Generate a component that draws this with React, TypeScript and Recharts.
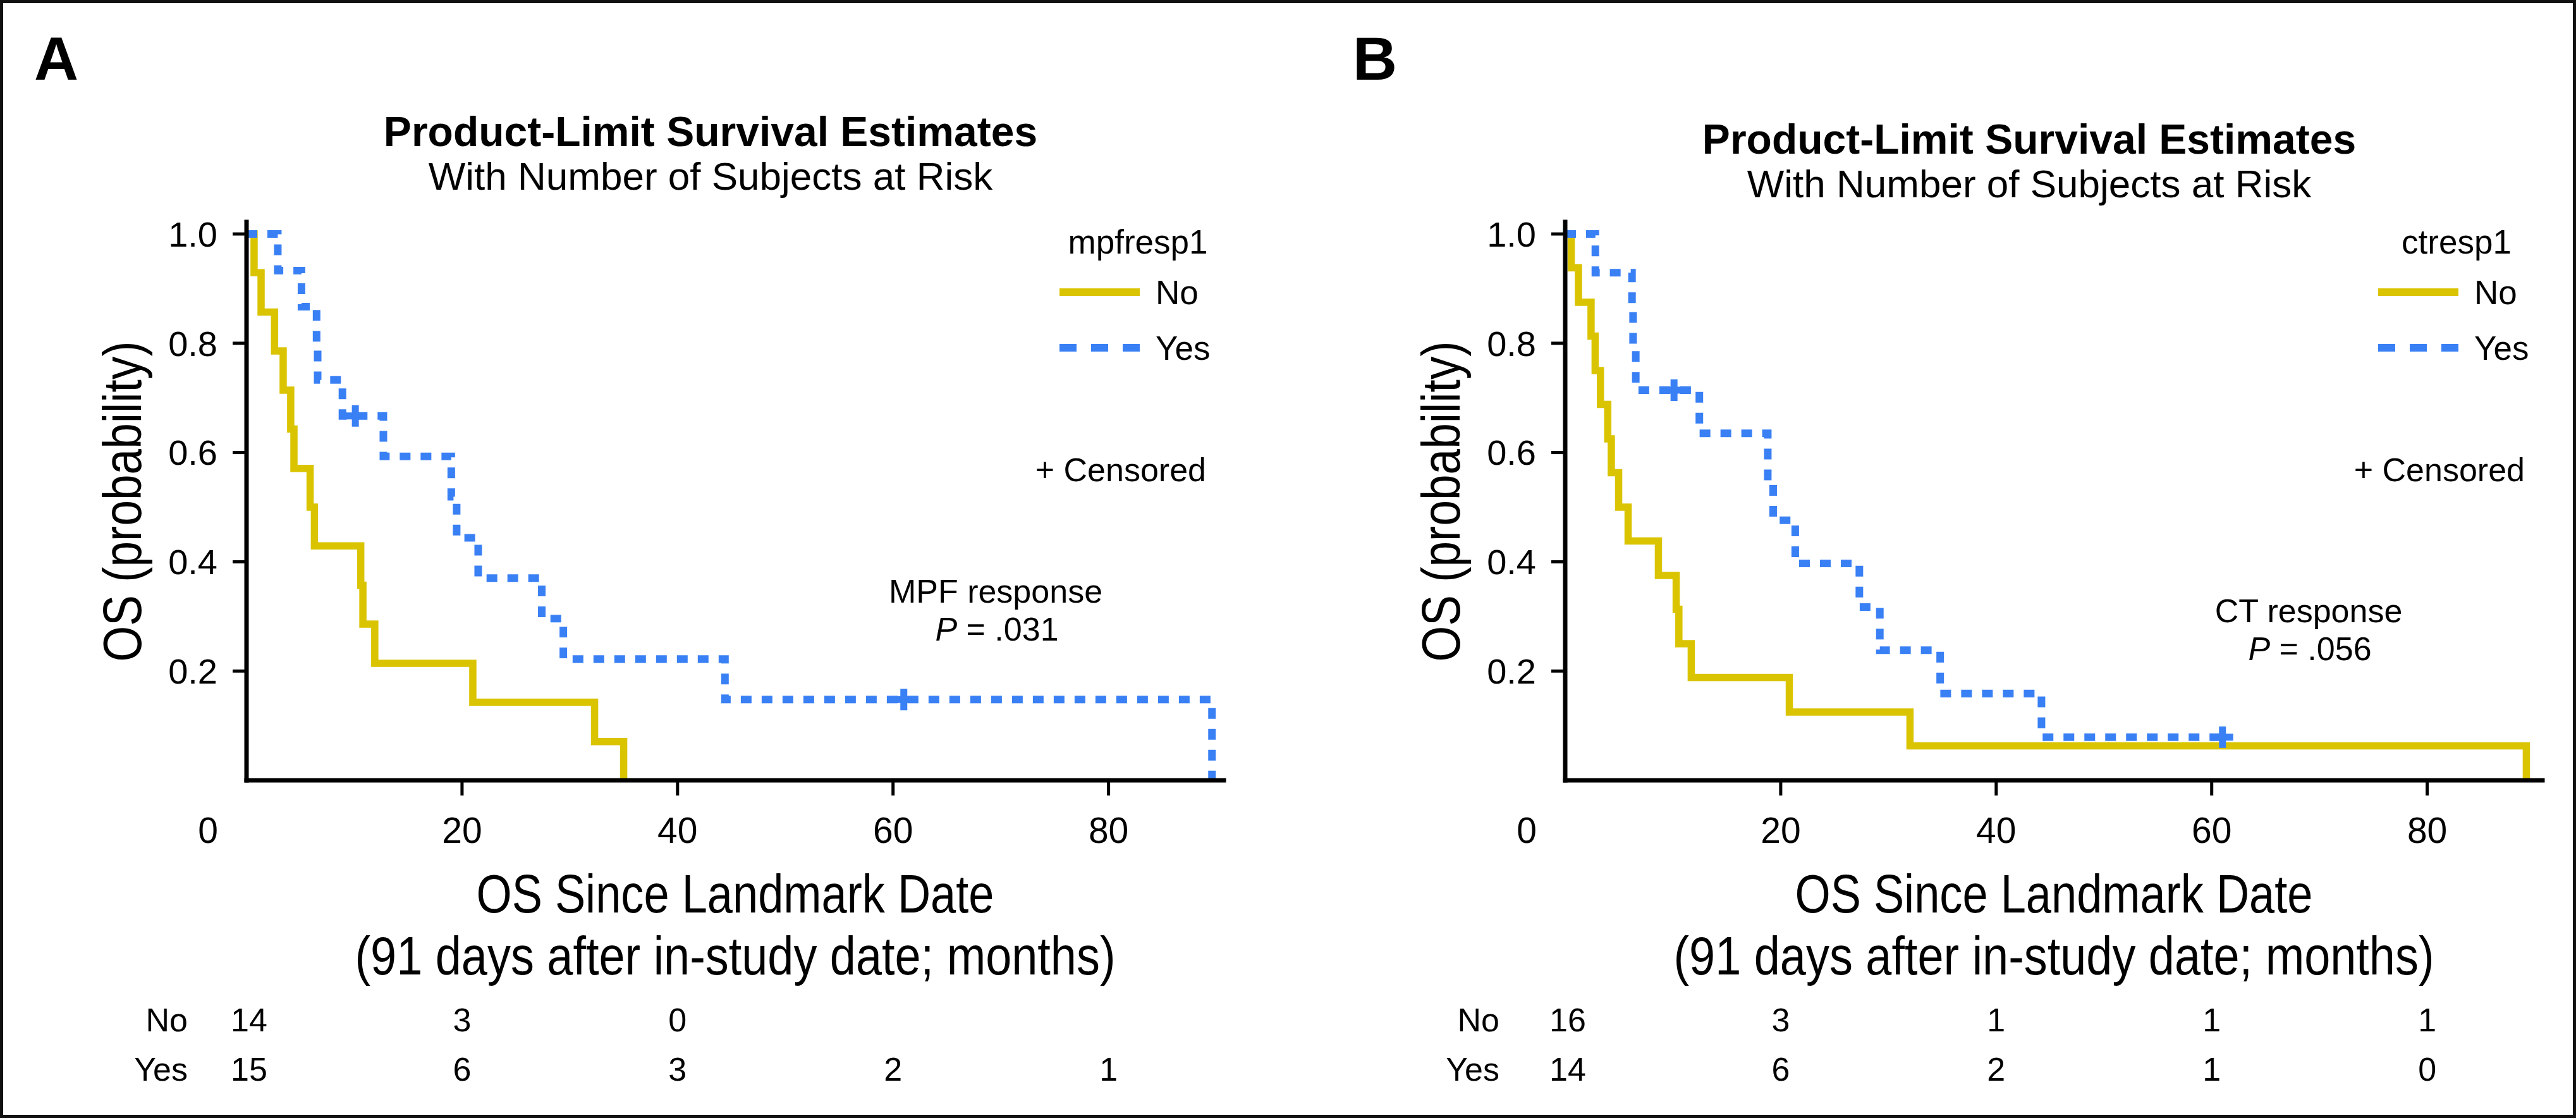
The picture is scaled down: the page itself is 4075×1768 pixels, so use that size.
import React from "react";
import { ComposedChart, Line, XAxis, YAxis, Legend } from "recharts";

const FONT = "'Liberation Sans', Arial, Helvetica, sans-serif";
const YELLOW = "#DAC400";
const BLUE = "#3A80F5";

// groups and axis ticks
const groups = ["No", "Yes"];
const monthTicks = [0, 20, 40, 60, 80];
const probTicks = [0.2, 0.4, 0.6, 0.8, 1.0];

// Panel A: mpfresp1 (MPF response)
const mpfNoTimes = [0, 0.7, 1.35, 2.6, 3.4, 4.1, 4.4, 5.9, 6.3, 10.6, 10.8, 11.9, 21.0, 32.3, 35.0];
const mpfNoSurv = [1, 0.929, 0.857, 0.786, 0.714, 0.643, 0.571, 0.5, 0.429, 0.357, 0.286, 0.214, 0.143, 0.071, 0];
const mpfNoCensored: number[] = [];
const mpfYesTimes = [0, 2.9, 5.1, 6.5, 6.6, 8.9, 10.1, 12.7, 19.0, 19.5, 21.5, 27.4, 29.4, 44.4, 61.0, 89.6];
const mpfYesSurv = [1, 0.933, 0.867, 0.8, 0.733, 0.667, 0.667, 0.593, 0.519, 0.444, 0.37, 0.296, 0.222, 0.148, 0.148, 0];
const mpfYesCensored = [10.1, 61.0];
const mpfRiskNo = [14, 3, 0, null, null];
const mpfRiskYes = [15, 6, 3, 2, 1];

// Panel B: ctresp1 (CT response)
const ctNoTimes = [0, 0.56, 1.23, 2.4, 2.78, 3.27, 3.95, 4.28, 4.96, 5.84, 8.65, 10.3, 10.55, 11.7, 20.8, 32.0, 89.2];
const ctNoSurv = [1, 0.938, 0.875, 0.813, 0.75, 0.688, 0.625, 0.563, 0.5, 0.438, 0.375, 0.313, 0.25, 0.188, 0.125, 0.063, 0];
const ctNoCensored: number[] = [];
const ctYesTimes = [0, 2.8, 6.2, 6.3, 6.55, 10.1, 12.45, 18.8, 19.3, 21.35, 27.3, 29.2, 34.8, 44.2, 61.0];
const ctYesSurv = [1, 0.929, 0.857, 0.786, 0.714, 0.714, 0.635, 0.556, 0.476, 0.397, 0.317, 0.238, 0.159, 0.079, 0.079];
const ctYesCensored = [10.1, 61.0];
const ctRiskNo = [16, 3, 1, 1, 1];
const ctRiskYes = [14, 6, 2, 1, 0];

const toSeries = (times: number[], surv: number[], censored: number[]) =>
  times.map((t, i) => ({ t, s: surv[i], c: censored.includes(t) }));

const W = 1985;
const H = 1768;
const MARGIN = { top: 351, right: 49, bottom: 434, left: 310 };

const makeCensor = (color: string) => (props: any) => {
  const { cx, cy, payload, index } = props;
  if (!payload || !payload.c) return <g key={"d" + index} />;
  return (
    <path
      key={"d" + index}
      d={`M${cx - 17},${cy}H${cx + 17}M${cx},${cy - 17}V${cy + 17}`}
      stroke={color}
      strokeWidth={11}
      strokeDasharray="none"
      fill="none"
    />
  );
};

const XTick = (props: any) => {
  const { x, y, payload, riskNo, riskYes } = props;
  const v = payload.value;
  const i = monthTicks.indexOf(v);
  const no = riskNo[i];
  const yes = riskYes[i];
  const nx = i === 0 ? x + 4 : x;
  return (
    <g>
      {v !== 0 && <line x1={x} x2={x} y1={y - 24} y2={y} stroke="#000" strokeWidth={5} />}
      <text x={v === 0 ? x - 61 : x} y={y + 75} textAnchor="middle" fontSize={57} fontFamily={FONT} fill="#000">
        {v}
      </text>
      {no != null && (
        <text x={nx} y={y + 373} textAnchor="middle" fontSize={52} fontFamily={FONT} fill="#000">
          {no}
        </text>
      )}
      {yes != null && (
        <text x={nx} y={y + 451} textAnchor="middle" fontSize={52} fontFamily={FONT} fill="#000">
          {yes}
        </text>
      )}
    </g>
  );
};

const makeLegend = (title: string) => (props: any) => {
  const items = props.payload || [];
  return (
    <svg width={300} height={440} style={{ overflow: "visible" }}>
      <text x={160} y={61} textAnchor="middle" fontSize={53} fontFamily={FONT} fill="#000">
        {title}
      </text>
      {items.map((it: any, k: number) => {
        const yy = 122 + k * 88;
        const dashed = it.payload && it.payload.strokeDasharray;
        return (
          <g key={k}>
            <line
              x1={36}
              x2={163}
              y1={yy}
              y2={yy}
              stroke={it.color}
              strokeWidth={12}
              strokeDasharray={dashed ? "27 23" : undefined}
            />
            <text x={188} y={yy + 19} fontSize={53} fontFamily={FONT} fill="#000">
              {it.value}
            </text>
          </g>
        );
      })}
      <text x={268} y={421} textAnchor="end" fontSize={52} fontFamily={FONT} fill="#000">
        + Censored
      </text>
    </svg>
  );
};

type PanelProps = {
  left: number;
  legendTitle: string;
  noData: any[];
  yesData: any[];
  riskNo: (number | null)[];
  riskYes: (number | null)[];
};

const KMPanel = ({ left, legendTitle, noData, yesData, riskNo, riskYes }: PanelProps) => {
  const axisLine = { stroke: "#000", strokeWidth: 7, strokeLinecap: "square" as const };
  return (
    <div style={{ position: "absolute", left, top: 0 }}>
      <ComposedChart width={W} height={H} margin={MARGIN}>
        <XAxis
          type="number"
          dataKey="t"
          domain={[0, 90.7]}
          ticks={monthTicks}
          interval={0}
          height={100}
          tickSize={24}
          tickMargin={0}
          tickLine={false}
          axisLine={axisLine}
          tick={(p: any) => <XTick {...p} riskNo={riskNo} riskYes={riskYes} />}
        />
        <YAxis
          type="number"
          domain={[0, 1.022]}
          ticks={probTicks}
          interval={0}
          width={80}
          tickSize={22}
          tickMargin={24}
          tickFormatter={(v: number) => v.toFixed(1)}
          tick={{ fontSize: 56, fill: "#000", fontFamily: FONT }}
          tickLine={{ stroke: "#000", strokeWidth: 5 }}
          axisLine={axisLine}
        />
        <Legend
          layout="vertical"
          align="center"
          verticalAlign="middle"
          width={300}
          height={440}
          wrapperStyle={{ left: 1640, top: 340 }}
          content={makeLegend(legendTitle)}
        />
        <Line
          data={noData}
          dataKey="s"
          name={groups[0]}
          type="stepAfter"
          stroke={YELLOW}
          strokeWidth={11.5}
          strokeLinejoin="miter"
          dot={makeCensor(YELLOW)}
          activeDot={false}
          isAnimationActive={false}
        />
        <Line
          data={yesData}
          dataKey="s"
          name={groups[1]}
          type="stepAfter"
          stroke={BLUE}
          strokeWidth={12}
          strokeDasharray="17 16"
          strokeLinejoin="miter"
          dot={makeCensor(BLUE)}
          activeDot={false}
          isAnimationActive={false}
        />
      </ComposedChart>
    </div>
  );
};

const PanelText = ({ dx, dyTitle, letter, respLabel, pText, respX, respY, rowLabelX }: any) => (
  <g fontFamily={FONT} fill="#000">
    <text x={54 + dx} y={126} fontSize={97} fontWeight="bold">
      {letter}
    </text>
    <text x={1124 + dx} y={231 + dyTitle} fontSize={66} fontWeight="bold" textAnchor="middle">
      Product-Limit Survival Estimates
    </text>
    <text x={1124 + dx} y={300 + dyTitle} fontSize={62} textAnchor="middle">
      With Number of Subjects at Risk
    </text>
    <text
      transform={`translate(${223 + dx},793) rotate(-90)`}
      fontSize={86}
      textAnchor="middle"
      textLength={507}
      lengthAdjust="spacingAndGlyphs"
    >
      OS (probability)
    </text>
    <text x={1163 + dx} y={1443} fontSize={86} textAnchor="middle" textLength={819} lengthAdjust="spacingAndGlyphs">
      OS Since Landmark Date
    </text>
    <text x={1163 + dx} y={1541} fontSize={86} textAnchor="middle" textLength={1203} lengthAdjust="spacingAndGlyphs">
      (91 days after in-study date; months)
    </text>
    <text x={respX} y={respY} fontSize={52} textAnchor="middle">
      {respLabel}
    </text>
    <text x={respX + 2} y={respY + 60} fontSize={52} textAnchor="middle">
      <tspan fontStyle="italic">P</tspan> = {pText}
    </text>
    <text x={rowLabelX} y={1631} fontSize={52} textAnchor="end">
      {groups[0]}
    </text>
    <text x={rowLabelX} y={1709} fontSize={52} textAnchor="end">
      {groups[1]}
    </text>
  </g>
);

export default function App() {
  return (
    <div style={{ position: "absolute", left: 0, top: 0, width: 4075, height: 1768, background: "#fff", overflow: "hidden" }}>
      <KMPanel
        left={0}
        legendTitle="mpfresp1"
        noData={toSeries(mpfNoTimes, mpfNoSurv, mpfNoCensored)}
        yesData={toSeries(mpfYesTimes, mpfYesSurv, mpfYesCensored)}
        riskNo={mpfRiskNo}
        riskYes={mpfRiskYes}
      />
      <KMPanel
        left={2086}
        legendTitle="ctresp1"
        noData={toSeries(ctNoTimes, ctNoSurv, ctNoCensored)}
        yesData={toSeries(ctYesTimes, ctYesSurv, ctYesCensored)}
        riskNo={ctRiskNo}
        riskYes={ctRiskYes}
      />
      <svg width={4075} height={1768} style={{ position: "absolute", left: 0, top: 0, pointerEvents: "none" }}>
        <PanelText dx={0} dyTitle={0} letter="A" respLabel="MPF response" pText=".031" respX={1575} respY={953} rowLabelX={297} />
        <PanelText dx={2086} dyTitle={12} letter="B" respLabel="CT response" pText=".056" respX={3652} respY={984} rowLabelX={2372} />
      </svg>
      <div
        style={{
          position: "absolute",
          left: 0,
          top: 0,
          width: 4075,
          height: 1768,
          border: "5px solid #111",
          boxSizing: "border-box",
          pointerEvents: "none",
        }}
      />
    </div>
  );
}
